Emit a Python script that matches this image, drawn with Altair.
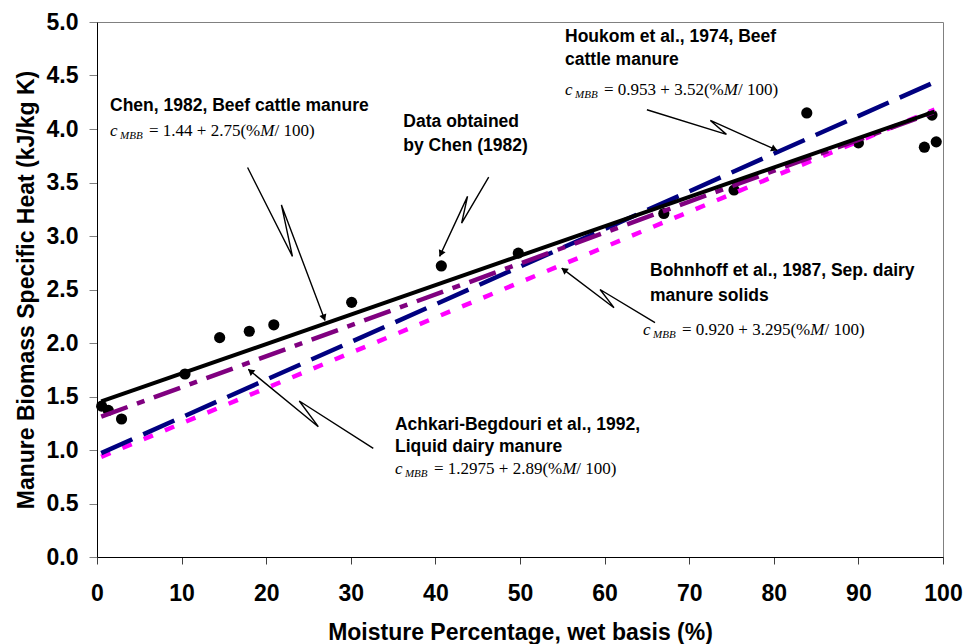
import math
import altair as alt
import pandas as pd

# ---------------- data ----------------
moisture = [0.55, 1.34, 2.9, 10.4, 14.5, 18.0, 20.9, 30.1, 40.7, 49.8,
            67.0, 75.3, 83.9, 90.0, 97.8, 98.7, 99.2]
heat = [1.41, 1.37, 1.29, 1.71, 2.05, 2.11, 2.17, 2.38, 2.72, 2.84,
        3.21, 3.43, 4.15, 3.87, 3.83, 4.13, 3.88]

line_x = [0.5, 99.0]
chen_y = [1.454, 4.163]
achkari_y = [1.312, 4.159]
houkom_y = [0.971, 4.438]
bohnhoff_y = [0.936, 4.182]

# annotation labels (left x, centre y of each line, data units)
label_text = ["Chen, 1982, Beef cattle manure",
              "Data obtained", "by Chen (1982)",
              "Houkom et al., 1974, Beef", "cattle manure",
              "Bohnhoff et al., 1987, Sep. dairy", "manure solids",
              "Achkari-Begdouri et al., 1992,", "Liquid dairy manure"]
label_x = [1.54, 36.21, 36.21, 55.32, 55.32, 65.37, 65.37, 35.22, 35.22]
label_y = [4.215, 4.065, 3.841, 4.860, 4.645, 2.673, 2.439, 1.234, 1.028]

# equations: intercept, slope, left x, centre y
eq_a = ["1.44", "0.953", "0.920", "1.2975"]
eq_b = ["2.75", "3.52", "3.295", "2.89"]
eq_x = [1.54, 55.32, 64.54, 35.22]
eq_y = [3.981, 4.364, 2.121, 0.822]

# callout arrows (start, zigzag, zigzag, tip)
arrow_x = [[17.8, 23.1, 21.8, 26.95],
           [46.3, 43.1, 43.8, 40.5],
           [65.0, 74.4, 72.5, 80.4],
           [65.96, 59.46, 61.11, 54.93],
           [32.66, 23.91, 26.16, 17.88]]
arrow_y = [[3.64, 2.81, 3.29, 2.21],
           [3.55, 3.12, 3.37, 2.81],
           [4.18, 3.95, 4.08, 3.80],
           [2.19, 2.50, 2.33, 2.70],
           [1.016, 1.458, 1.218, 1.754]]

# ---------------- layout ----------------
W, H = 846, 535
PX_X = 100 / W
PX_Y = 5 / H

xs = alt.Scale(domain=[0, 100], nice=False, zero=False)
ys = alt.Scale(domain=[0, 5], nice=False, zero=False)

SANS = "Liberation Sans"
SERIF = "Liberation Serif"

x_axis = alt.Axis(values=list(range(0, 101, 10)), grid=False, tickSize=7,
                  tickColor="#404040", domainColor="black", labelFont=SANS,
                  labelFontWeight="bold", labelFontSize=23, labelColor="black",
                  labelBaseline="alphabetic", labelPadding=36, labelFlush=False,
                  labelOverlap=False, labelBound=False,
                  title="Moisture Percentage, wet basis (%)", titleFont=SANS,
                  titleFontWeight="bold", titleFontSize=23, titleColor="black",
                  titleBaseline="alphabetic", titleAlign="center",
                  titleX=W / 2, titleY=82)
y_axis = alt.Axis(values=[i * 0.5 for i in range(11)], format=".1f", grid=False,
                  tickSize=8, tickColor="#808080", domainColor="black",
                  labelFont=SANS, labelFontWeight="bold", labelFontSize=23,
                  labelColor="black", labelPadding=11, labelOverlap=False,
                  labelBound=False,
                  title="Manure Biomass Specific Heat (kJ/kg K)", titleFont=SANS,
                  titleFontWeight="bold", titleFontSize=23, titleColor="black",
                  titleAngle=270, titleBaseline="alphabetic", titleAlign="center",
                  titleX=-64, titleY=H / 2)


def X(field="x"):
    return alt.X(f"{field}:Q", scale=xs, axis=x_axis)


def Y(field="y"):
    return alt.Y(f"{field}:Q", scale=ys, axis=y_axis)


pts_df = pd.DataFrame({"x": moisture, "y": heat})
points = alt.Chart(pts_df).mark_circle(size=125, color="black", opacity=1).encode(
    x=X(), y=Y())


def fit_line(yv, color, dash, width):
    df = pd.DataFrame({"x": line_x, "y": yv})
    kw = dict(color=color, strokeWidth=width)
    if dash:
        kw["strokeDash"] = dash
    return alt.Chart(df).mark_line(**kw).encode(x=X(), y=Y())


l_boh = fit_line(bohnhoff_y, "#FF00FF", [10, 13], 4.5)
l_hou = fit_line(houkom_y, "#000080", [34, 12], 4.5)
l_ach = fit_line(achkari_y, "#800080", [28, 10, 8, 10], 4.5)
l_chen = fit_line(chen_y, "black", None, 4)

# arrows
rows, heads = [], []
for i, (ax, ay) in enumerate(zip(arrow_x, arrow_y)):
    for j, (a, b) in enumerate(zip(ax, ay)):
        rows.append({"id": i, "o": j, "x": a, "y": b})
    dxp = (ax[-1] - ax[-2]) / PX_X
    dyp = -(ay[-1] - ay[-2]) / PX_Y
    n = math.hypot(dxp, dyp)
    ang = math.degrees(math.atan2(dxp, -dyp)) % 360
    back = 4.0
    heads.append({"x": ax[-1] - dxp / n * back * PX_X,
                  "y": ay[-1] + dyp / n * back * PX_Y, "a": ang})
arr_df = pd.DataFrame(rows)
arrows = alt.Chart(arr_df).mark_line(color="black", strokeWidth=1.4).encode(
    x=X(), y=Y(), detail="id:N", order="o:Q")
head_df = pd.DataFrame(heads)
arrow_heads = alt.Chart(head_df).mark_point(
    shape="triangle", filled=True, color="black", size=55, opacity=1
).encode(x=X(), y=Y(), angle=alt.Angle("a:Q", scale=None))

lab_df = pd.DataFrame({"x": label_x, "y": label_y, "t": label_text})
labels = alt.Chart(lab_df).mark_text(
    align="left", baseline="middle", font=SANS, fontWeight="bold",
    fontSize=17.5, color="black"
).encode(x=X(), y=Y(), text="t:N")

# equations split into pieces
TIMES = {".": 250, " ": 250, "=": 564, "+": 564, "(": 333, ")": 333,
         "%": 833, "/": 278}
for d in "0123456789":
    TIMES[d] = 500
EQ_SIZE = 17


def tw(s):
    return sum(TIMES[c] for c in s) / 1000 * EQ_SIZE


ital, subs, reg = [], [], []
for a, b, x0, y0 in zip(eq_a, eq_b, eq_x, eq_y):
    r1 = f"= {a} + {b}(%"
    off_r1 = 39
    off_m = off_r1 + tw(r1)
    off_r2 = off_m + 0.833 * EQ_SIZE
    ital.append({"x": x0, "y": y0, "t": "c"})
    ital.append({"x": x0 + off_m * PX_X, "y": y0, "t": "M"})
    subs.append({"x": x0 + 10 * PX_X, "y": y0, "t": "MBB"})
    reg.append({"x": x0 + off_r1 * PX_X, "y": y0, "t": r1})
    reg.append({"x": x0 + off_r2 * PX_X, "y": y0, "t": "/ 100)"})


def text_layer(rows_, **kw):
    return alt.Chart(pd.DataFrame(rows_)).mark_text(
        align="left", baseline="middle", font=SERIF, color="black", **kw
    ).encode(x=X(), y=Y(), text="t:N")


eq_ital = text_layer(ital, fontSize=EQ_SIZE, fontStyle="italic")
eq_sub = text_layer(subs, fontSize=11, fontStyle="italic", dy=5)
eq_reg = text_layer(reg, fontSize=EQ_SIZE)

chart = alt.layer(
    points, l_boh, l_hou, l_ach, l_chen, arrows, arrow_heads,
    labels, eq_ital, eq_sub, eq_reg
).properties(
    width=W, height=H,
    autosize=alt.AutoSizeParams(type="none"),
    padding={"left": 97, "top": 22, "right": 22, "bottom": 87},
    background="white",
).configure_view(stroke="#808080", strokeWidth=1)

chart.save("out.html", embed_options={"renderer": "svg", "actions": False})
